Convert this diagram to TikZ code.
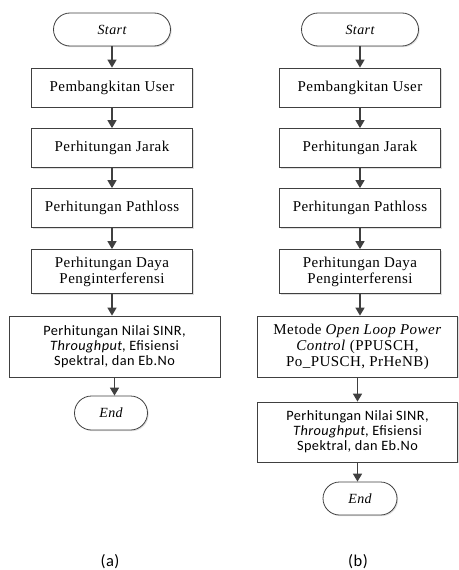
\documentclass[tikz,border=0pt]{standalone}
\usepackage{fontspec}
\setmainfont{Liberation Serif}[LetterSpace=3]
\newfontfamily\calibri{Carlito}[LetterSpace=3]
\usetikzlibrary{shapes.misc,arrows.meta,shadows}
\definecolor{linegray}{HTML}{404040}
\tikzstyle{boxshadow}=[drop shadow={shadow xshift=1.2pt, shadow yshift=-1.2pt, opacity=0.25}]
\tikzstyle{terminal}=[draw=linegray, line width=0.8pt, fill=white, boxshadow, rounded rectangle,
                      minimum width=117pt, minimum height=33pt, inner sep=0,
                      font=\fontsize{14}{16}\selectfont\itshape]
\tikzstyle{process}=[draw=linegray, line width=0.8pt, fill=white, boxshadow, rectangle, align=center,
                     minimum width=161pt, minimum height=39pt, inner sep=2pt,
                     font=\fontsize{15}{16}\selectfont]
\tikzstyle{wideprocess}=[process, minimum height=61pt]
\tikzstyle{flow}=[draw=linegray, line width=1.6pt, -{Triangle[length=8pt, width=9pt]}]
\tikzstyle{caption}=[font=\calibri\fontsize{16.5}{18}\selectfont]

\begin{document}
\begin{tikzpicture}[x=10pt, y=-10pt]
    \useasboundingbox (0, 0) rectangle (45.8, 57);
    % (a) without power control
    \node[terminal] (starta) at (11.2, 2.95) {Start};
    \node[process] (a1) at (11.2, 8.75) {Pembangkitan User};
    \node[process] (a2) at (11.2, 14.8) {Perhitungan Jarak};
    \node[process] (a3) at (11.2, 20.8) {Perhitungan Pathloss};
    \node[process, minimum height=44pt] (a4) at (11.2, 27.15) {Perhitungan Daya\\Penginterferensi};
    \node[wideprocess, minimum width=211pt, font=\calibri\fontsize{14.3}{15}\selectfont] (a5) at (11.45, 34.65)
        {Perhitungan Nilai SINR,\\\textit{Throughput}, Efisiensi\\Spektral, dan Eb.No};
    \node[terminal, minimum width=73pt, minimum height=34pt] (enda) at (11.1, 41.3) {End};
    % (b) with open loop power control
    \node[terminal] (startb) at (36, 2.95) {Start};
    \node[process] (b1) at (36, 8.75) {Pembangkitan User};
    \node[process] (b2) at (36, 14.8) {Perhitungan Jarak};
    \node[process] (b3) at (36, 20.8) {Perhitungan Pathloss};
    \node[process, minimum height=44pt] (b4) at (36, 27.15) {Perhitungan Daya\\Penginterferensi};
    \node[wideprocess, minimum width=200pt] (b5) at (35.75, 34.65)
        {Metode \textit{Open Loop Power}\\\textit{Control} (PPUSCH,\\Po\_PUSCH, PrHeNB)};
    \node[wideprocess, minimum width=200pt, minimum height=60pt, font=\calibri\fontsize{14.3}{15}\selectfont] (b6) at (35.75, 43.2)
        {Perhitungan Nilai SINR,\\\textit{Throughput}, Efisiensi\\Spektral, dan Eb.No};
    \node[terminal, minimum width=74pt] (endb) at (36, 49.85) {End};
    % connectors
    \foreach \u/\v in {starta/a1, a1/a2, a2/a3, a3/a4, a4/a5, a5/enda,
                       startb/b1, b1/b2, b2/b3, b3/b4, b4/b5, b5/b6, b6/endb}
        \draw[flow] (\u.south) -- (\u.south |- \v.north);
    % captions
    \node[caption] (capa) at (11, 56.2) {(a)};
    \node[caption] (capb) at (35.8, 56.2) {(b)};
\end{tikzpicture}
\end{document}
